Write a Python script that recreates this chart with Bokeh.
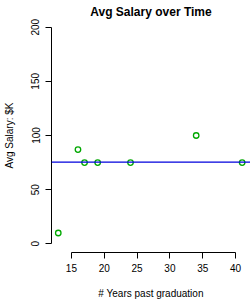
from bokeh.plotting import figure
from bokeh.models import Range1d, FixedTicker, Span
from bokeh.embed import file_html
from bokeh.resources import INLINE

years = [13, 16, 17, 19, 24, 34, 41]
salary = [10, 87, 75, 75, 75, 100, 75]
ref_level = 75.5
x_ticks = [15, 20, 25, 30, 35, 40]
y_ticks = [0, 50, 100, 150, 200]

FONT = "Liberation Sans"

p = figure(width=250, height=301, output_backend="svg", toolbar_location=None,
           x_range=Range1d(11.97, 42.27), y_range=Range1d(-8, 208),
           min_border_left=50, min_border_right=0, min_border_top=18,
           min_border_bottom=48, title="Avg Salary over Time")
p.outline_line_color = None
p.grid.visible = False
p.background_fill_color = "white"
p.border_fill_color = "white"

p.title.align = "center"
p.title.text_font = FONT
p.title.text_font_size = "12px"
p.title.text_font_style = "bold"
p.title.text_color = "black"
p.title.standoff = 0
p.title.offset = 0

for ax, ticks, bounds in ((p.xaxis[0], x_ticks, (15, 40)), (p.yaxis[0], y_ticks, (0, 200))):
    ax.ticker = FixedTicker(ticks=ticks)
    ax.bounds = bounds
    ax.minor_tick_line_color = None
    ax.major_tick_in = 0
    ax.major_tick_out = 6
    ax.axis_line_color = "black"
    ax.major_tick_line_color = "black"
    ax.major_label_text_font = FONT
    ax.major_label_text_font_size = "10px"
    ax.major_label_text_color = "black"
    ax.axis_label_text_font = FONT
    ax.axis_label_text_font_size = "10px"
    ax.axis_label_text_font_style = "normal"
    ax.axis_label_text_color = "black"

p.xaxis.axis_label = "# Years past graduation"
p.yaxis.axis_label = "Avg Salary: $K"
p.yaxis.major_label_orientation = "vertical"
p.xaxis.major_label_standoff = 5
p.xaxis.axis_label_standoff = 13
p.yaxis.major_label_standoff = 6
p.yaxis.axis_label_standoff = 14

p.add_layout(Span(location=ref_level, dimension="width", line_color="#0000dd", line_width=1.2))
p.scatter(years, salary, marker="circle", size=5.5, fill_color=None,
          line_color="#00a800", line_width=1.3)

open("out.html", "w").write(file_html(p, INLINE))
